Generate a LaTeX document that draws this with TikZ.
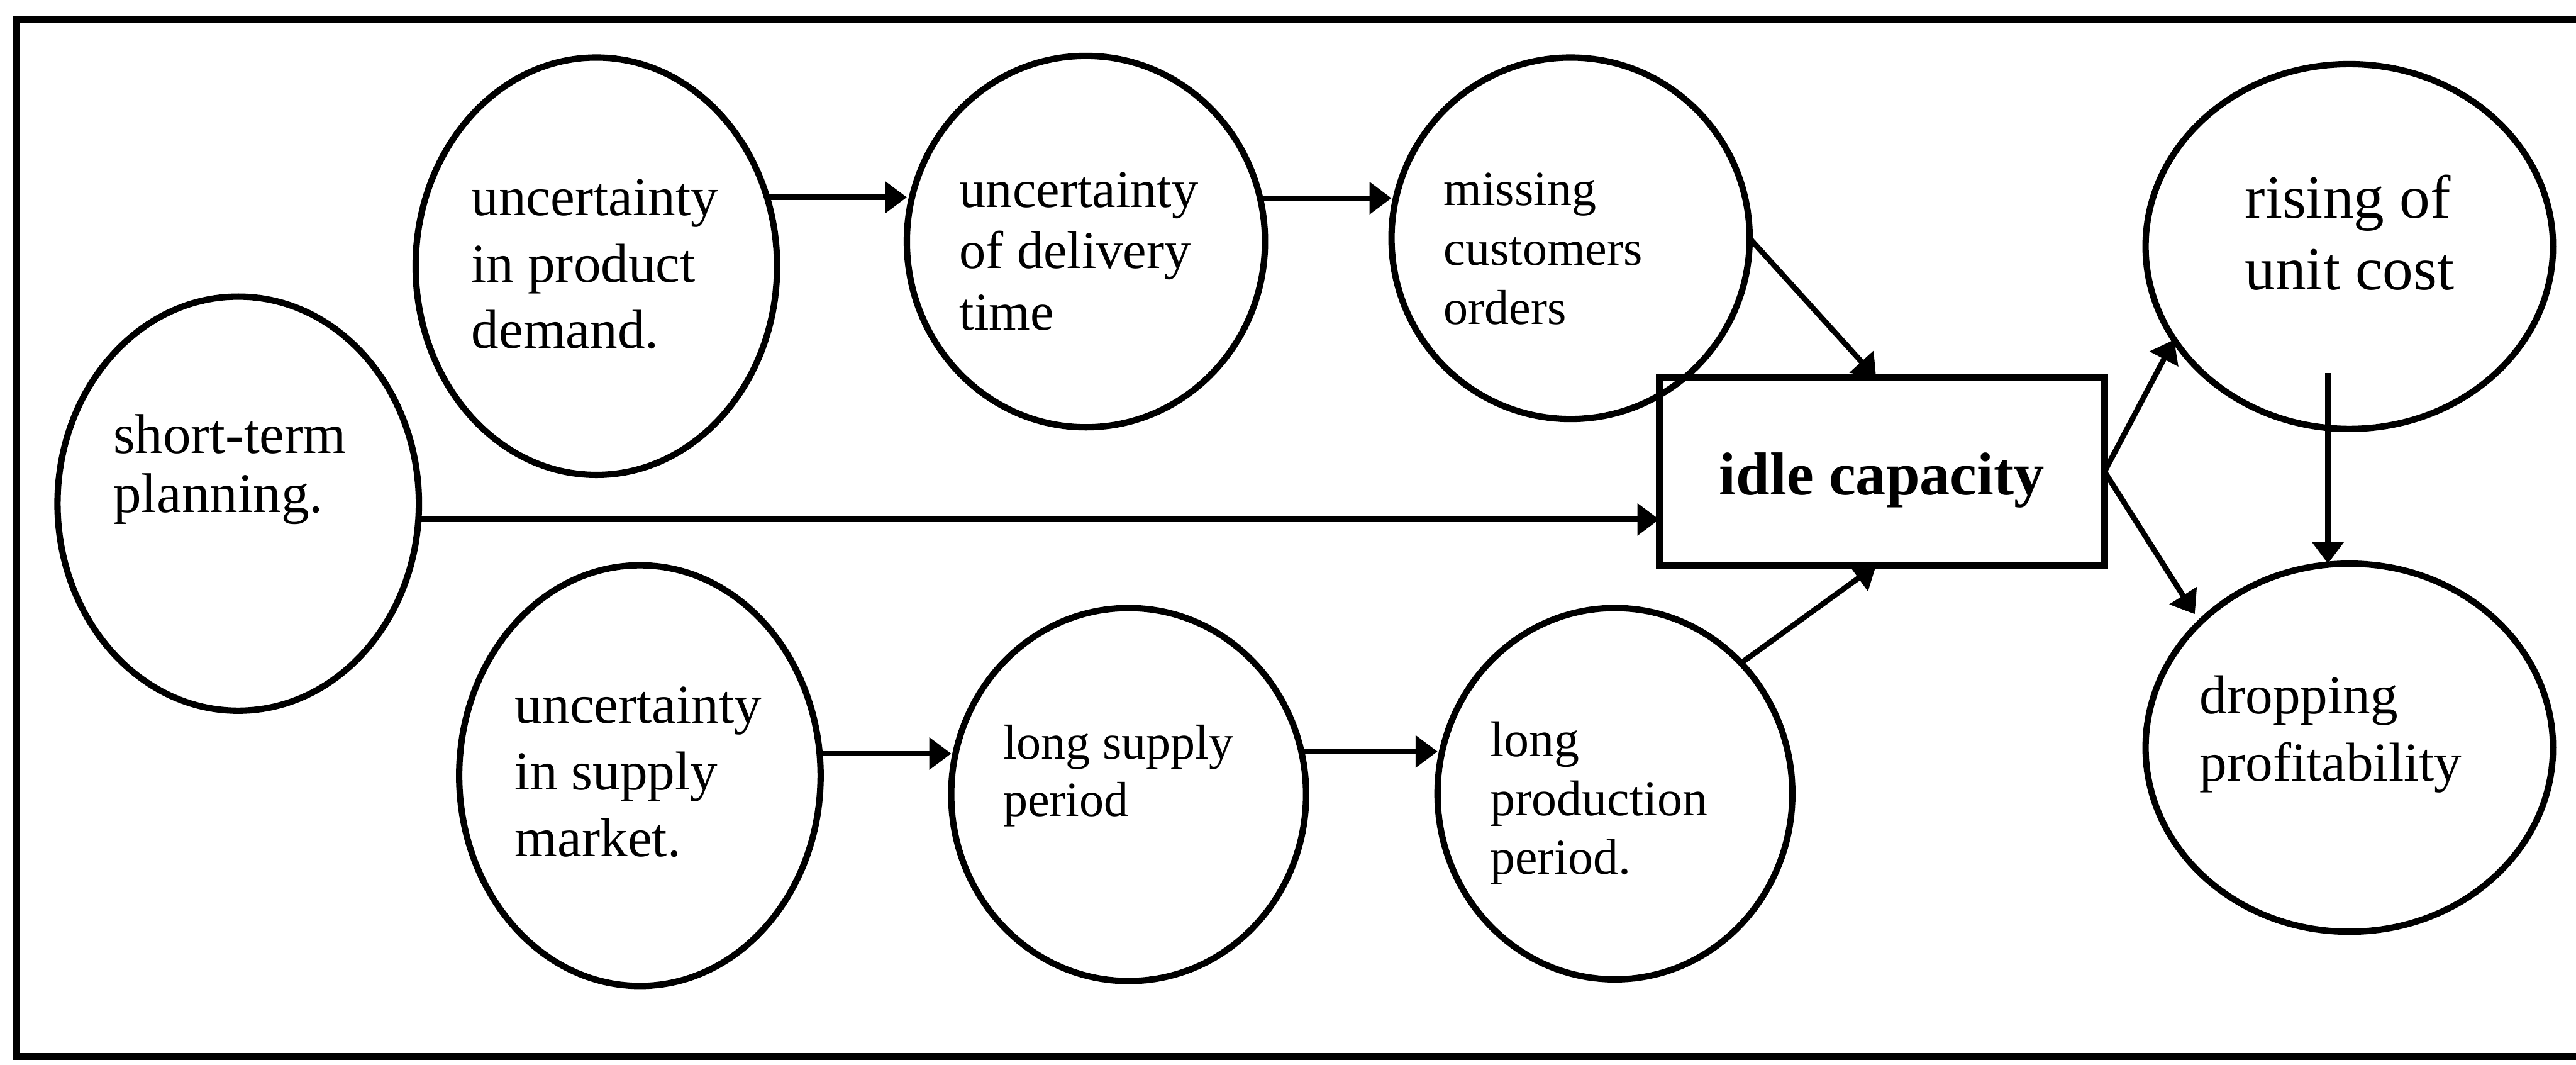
\documentclass[tikz,border=0pt]{standalone}
\usepackage{fontspec}
\setmainfont{Liberation Serif}
\usetikzlibrary{arrows.meta,shapes.geometric}

\begin{document}
\begin{tikzpicture}[x=0.1mm,y=-0.1mm,
  bubble/.style={ellipse,draw,line width=1.1pt,outer sep=0pt,inner sep=0pt},
  box/.style={rectangle,draw,line width=1.2pt,outer sep=0pt,inner sep=0pt},
  lbl/.style={anchor=base west,align=left,inner sep=0pt,outer sep=0pt},
  arr/.style={line width=0.95pt,-{Triangle[length=3.8pt,width=5.4pt]}},
]
\useasboundingbox (0,0) rectangle (1568,648);

% outer frame (open towards the right edge)
\draw[line width=1.2pt] (1600,12) -- (10,12) -- (10,643) -- (1600,643);

% bubbles
\node[bubble,minimum width=22mm,minimum height=25.2mm] (stp) at (145,306.5) {};
\node[bubble,minimum width=22mm,minimum height=25.4mm] (pd)  at (363,162) {};
\node[bubble,minimum width=21.8mm,minimum height=22.6mm] (dt) at (661,147) {};
\node[bubble,minimum width=21.8mm,minimum height=22mm] (mco) at (956,145) {};
\node[bubble,minimum width=24.8mm,minimum height=22.2mm] (ruc) at (1430,150) {};
\node[bubble,minimum width=24.8mm,minimum height=22.4mm] (dp) at (1430,455) {};
\node[bubble,minimum width=22mm,minimum height=25.6mm] (usm) at (389.5,472) {};
\node[bubble,minimum width=21.6mm,minimum height=22.7mm] (lsp) at (687,483.5) {};
\node[bubble,minimum width=21.6mm,minimum height=22.6mm] (lpp) at (983,483) {};
\node[box,minimum width=27.1mm,minimum height=11.4mm] (idle) at (1145.5,287) {};

% labels (each placed by the baseline of its last line)
\node[lbl,font=\fontsize{9.7}{10.2}\selectfont] (stp-t) at (69,311.6) {short-term\\planning.};
\node[lbl,font=\fontsize{9.5}{11.5}\selectfont] (pd-t) at (287,212) {uncertainty\\in product\\demand.};
\node[lbl,font=\fontsize{9.2}{10.6}\selectfont] (dt-t) at (584,200.7) {uncertainty\\of delivery\\time};
\node[lbl,font=\fontsize{8.5}{10.3}\selectfont] (mco-t) at (878.7,197.5) {missing\\customers\\orders};
\node[lbl,font=\fontsize{10.6}{12.5}\selectfont] (ruc-t) at (1366.5,176.4) {rising of\\unit cost};
\node[lbl,font=\fontsize{9.5}{11.7}\selectfont] (dp-t) at (1339,475.4) {dropping\\profitability};
\node[lbl,font=\fontsize{9.5}{11.5}\selectfont] (usm-t) at (313.5,521) {uncertainty\\in supply\\market.};
\node[lbl,font=\fontsize{8.5}{9.9}\selectfont] (lsp-t) at (610.6,496.6) {long supply\\period};
\node[lbl,font=\fontsize{8.7}{10.2}\selectfont] (lpp-t) at (907,532) {long\\production\\period.};
\node[anchor=base,inner sep=0pt,font=\fontsize{10.5}{12}\selectfont\bfseries] (idle-t) at (1145.5,301) {idle capacity};

% connectors
\draw[arr] (pd.22.6) -- (pd.22.6 -| dt.west);
\draw[arr] (dt.14.85) -- (dt.14.85 -| mco.west);
\draw[arr] (usm.7.8) -- (usm.7.8 -| lsp.west);
\draw[arr] (lsp.14) -- (lsp.14 -| lpp.west);
\draw[arr] (stp.-5.5) -- (stp.-5.5 -| idle.west);
\draw[arr] (mco.east) -- ([xshift=-0.35mm]idle.north);
\draw[arr] (lpp.46) -- ([xshift=-0.35mm]idle.south);
\draw[arr] (idle.east) -- (ruc.208);
\draw[arr,shorten >=0.6mm] (idle.east) -- (dp.140);
\coordinate (rd) at ([xshift=-1.3mm,yshift=-7.7mm]ruc.center);
\draw[arr] (rd) -- (rd |- dp.north);
\end{tikzpicture}
\end{document}
